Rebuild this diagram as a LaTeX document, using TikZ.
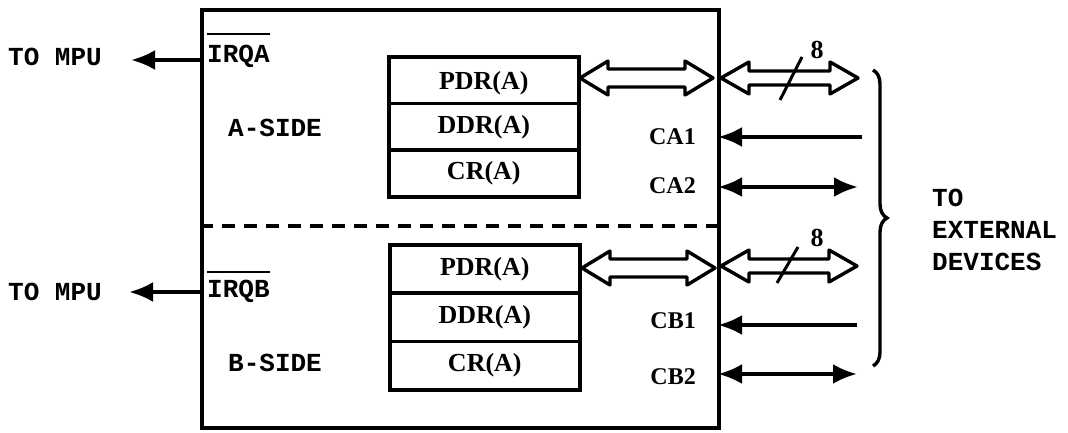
\documentclass[tikz,border=0pt]{standalone}
\usepackage{fontspec}
\setmainfont{Liberation Mono}
\newfontfamily\regfont{Liberation Serif}
\usetikzlibrary{arrows.meta,calc,decorations.pathreplacing}

% hollow two-headed bus arrow: from, to, shaft half-width, head half-width, head length
\newcommand\hollowbus[5]{%
  \draw[busline] (#1) -- ($(#1)+(#5,#4)$) -- ($(#1)+(#5,#3)$)
    -- ($(#2)+(-#5,#3)$) -- ($(#2)+(-#5,#4)$) -- (#2)
    -- ($(#2)+(-#5,-#4)$) -- ($(#2)+(-#5,-#3)$)
    -- ($(#1)+(#5,-#3)$) -- ($(#1)+(#5,-#4)$) -- cycle;}

\begin{document}
\begin{tikzpicture}[x=1pt,y=-1pt,
  lbl/.style={font=\bfseries\fontsize{26}{28}\selectfont, inner sep=0pt},
  pin/.style={font=\regfont\bfseries\fontsize{24}{26}\selectfont, inner sep=0pt},
  reg/.style={draw, line width=3.6pt, minimum width=190pt, minimum height=46.7pt,
    inner sep=0pt, anchor=north west, font=\regfont\bfseries\fontsize{26}{28}\selectfont},
  busline/.style={line width=3.4pt, line join=round},
  sig/.style={line width=3.8pt, -{Latex[length=24pt,width=20pt]}},
  sigboth/.style={line width=3.8pt, {Latex[length=24pt,width=20pt]}-{Latex[length=24pt,width=20pt]}},
  slash/.style={line width=3pt},
  divider/.style={line width=3.6pt, dash pattern=on 13pt off 9pt},
]
\useasboundingbox (0,0) rectangle (1068,433);

% chip outline
\node[draw, line width=3.8pt, minimum width=517pt, minimum height=418pt,
  inner sep=0pt, anchor=north west] (chip) at (200,8) {};

% A / B divider
\coordinate (dl) at (200,226);
\coordinate (dr) at (717,226);
\draw[divider] (dl) -- (dr);

% interrupt outputs
\node[lbl, anchor=west] (irqA) at (207,56) {IRQA};
\draw[line width=2pt] ([yshift=11pt]irqA.north west) -- ([yshift=11pt]irqA.north east);
\node[lbl, anchor=west] (mpuA) at (8,57) {TO MPU};
\coordinate (edgeA) at (200,60);
\coordinate (tipA) at (131,60);
\draw[sig] (edgeA) -- (tipA);

\node[lbl, anchor=west] (irqB) at (207,291) {IRQB};
\draw[line width=2pt] ([yshift=8pt]irqB.north west) -- ([yshift=8pt]irqB.north east);
\node[lbl, anchor=west] (mpuB) at (8,292) {TO MPU};
\coordinate (edgeB) at (200,292);
\coordinate (tipB) at (129,292);
\draw[sig] (edgeB) -- (tipB);

% side labels
\node[lbl, anchor=west] (sideA) at (228,128) {A-SIDE};
\node[lbl, anchor=west] (sideB) at (228,363) {B-SIDE};

% A-side registers
\node[reg, text depth=-4pt] (pdrA) at (387,55) {PDR(A)};
\node[reg] (ddrA) at (387,101.7) {DDR(A)};
\node[reg] (crA)  at (387,148.3) {CR(A)};

% B-side registers
\node[reg, minimum height=48.3pt] (pdrB) at (388,243) {PDR(A)};
\node[reg, minimum height=48.3pt] (ddrB) at (388,291.3) {DDR(A)};
\node[reg, minimum height=48.3pt] (crB)  at (388,339.6) {CR(A)};

% internal data buses
\coordinate (ibA1) at (580,78);
\coordinate (ibA2) at (713,78);
\hollowbus{ibA1}{ibA2}{9}{17}{28}
\coordinate (ibB1) at (582,268);
\coordinate (ibB2) at (715,268);
\hollowbus{ibB1}{ibB2}{9}{17}{28}

% external data buses
\coordinate (obA1) at (721,78);
\coordinate (obA2) at (858,78);
\hollowbus{obA1}{obA2}{7}{16}{28}
\coordinate (obB1) at (721,266);
\coordinate (obB2) at (857,266);
\hollowbus{obB1}{obB2}{7}{16}{28}

% bus width marks
\coordinate (sa1) at (780,100);
\coordinate (sa2) at (802,57);
\draw[slash] (sa1) -- (sa2);
\node[pin, font=\regfont\bfseries\fontsize{26}{28}\selectfont] (wA) at (817,50) {8};
\coordinate (sb1) at (777,283);
\coordinate (sb2) at (798,247);
\draw[slash] (sb1) -- (sb2);
\node[pin, font=\regfont\bfseries\fontsize{26}{28}\selectfont] (wB) at (817,238) {8};

% control lines
\node[pin, anchor=east] (ca1) at (696,137) {CA1};
\node[pin, anchor=east] (ca2) at (696,186) {CA2};
\node[pin, anchor=east] (cb1) at (696,321) {CB1};
\node[pin, anchor=east] (cb2) at (696,377) {CB2};

\coordinate (ca1o) at (862,137);
\coordinate (ca1i) at (718,137);
\draw[sig] (ca1o) -- (ca1i);
\coordinate (ca2i) at (718,187);
\coordinate (ca2o) at (858,187);
\draw[sigboth] (ca2i) -- (ca2o);
\coordinate (cb1o) at (857,325);
\coordinate (cb1i) at (718,325);
\draw[sig] (cb1o) -- (cb1i);
\coordinate (cb2i) at (718,374);
\coordinate (cb2o) at (857,374);
\draw[sigboth] (cb2i) -- (cb2o);

% grouping brace
\coordinate (brT) at (873,70);
\coordinate (brB) at (873,366);
\draw[line width=3.4pt, decorate, decoration={brace, amplitude=14pt}] (brT) -- (brB);
\node[lbl, anchor=west, align=left, font=\bfseries\fontsize{26}{32}\selectfont] (ext) at (932,230)
  {TO\\EXTERNAL\\DEVICES};
\end{tikzpicture}
\end{document}
